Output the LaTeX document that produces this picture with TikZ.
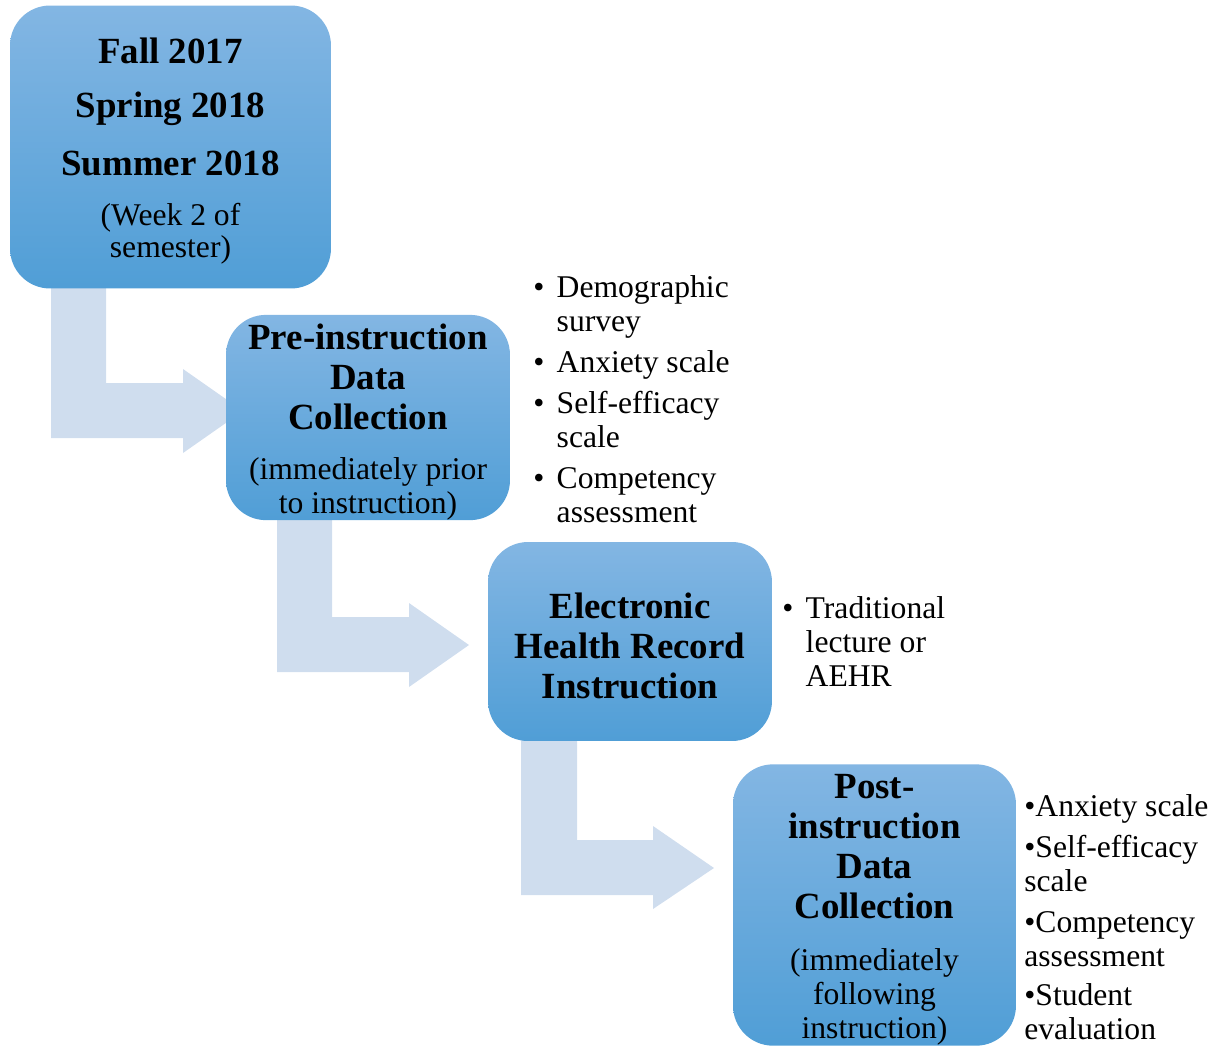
\documentclass[tikz,border=0pt]{standalone}
\usepackage{fontspec}
\setmainfont{Liberation Serif}
\definecolor{boxtop}{RGB}{131,182,227}
\definecolor{boxbot}{RGB}{80,158,214}
\definecolor{arrowblue}{RGB}{207,221,238}
\newcommand{\hdfont}{\fontsize{21}{22.8}\selectfont\bfseries}
\newcommand{\subfont}{\fontsize{18}{19.4}\selectfont\mdseries}
\newcommand{\listfont}{\fontsize{18}{19.4}\selectfont}
\newcommand{\topgap}{\rule{0pt}{19.5pt}}
\begin{document}
\begin{tikzpicture}[x=0.02cm, y=-0.02cm, line join=round,
    box/.style={rectangle, rounded corners=0.8cm, top color=boxtop, bottom color=boxbot, align=center, inner sep=0pt, font=\hdfont},
    bigarrow/.style={fill=arrowblue, draw=none},
    bullets/.style={anchor=base west, inner sep=0pt, font=\listfont}]
            \useasboundingbox (0,0) rectangle (1221,1046);
            \fill[bigarrow] (51,280) -- (106,280) -- (106,383) -- (183,383) -- (183,369) -- (243,411) -- (183,453) -- (183,438) -- (51,438) -- cycle;
            \fill[bigarrow] (277,505) -- (332,505) -- (332,617) -- (409,617) -- (409,603) -- (469,645) -- (409,687) -- (409,672) -- (277,672) -- cycle;
            \fill[bigarrow] (521,730) -- (577,730) -- (577,840) -- (653,840) -- (653,826) -- (714,868) -- (653,909) -- (653,895) -- (521,895) -- cycle;
            \node[box, minimum width=6.42cm, minimum height=5.66cm] (terms) at (170.5,147)
                {\hdfont\topgap Fall 2017\\[7.9pt]\hdfont Spring 2018\\[10.2pt]\hdfont Summer 2018\\[5.7pt]\subfont (Week 2 of\\[-4.6pt]\subfont semester)};
            \node[box, minimum width=5.68cm, minimum height=3.98cm] (pre) at (368,417.5)
                {\hdfont\topgap Pre-instruction\\\hdfont Data\\\hdfont Collection\\[5.7pt]\subfont (immediately prior\\[-3.4pt]\subfont to instruction)};
            \node[box, minimum width=5.68cm, minimum height=3.98cm] (ehr) at (630,641.5)
                {\hdfont\topgap Electronic\\\hdfont Health Record\\\hdfont Instruction};
            \node[box, minimum width=5.66cm, minimum height=5.56cm] (post) at (874.5,905)
                {\hdfont\topgap Post-\\\hdfont instruction\\\hdfont Data\\\hdfont Collection\\[6.8pt]\subfont (immediately\\[-3.4pt]\subfont following\\[-3.4pt]\subfont instruction)};
            \node[bullets] (prelist) at (533,297) {\begin{tabular}[t]{@{}l@{\hspace{7pt}}l@{}}
                \textbullet & Demographic\\ & survey\\[4pt]
                \textbullet & Anxiety scale\\[4pt]
                \textbullet & Self-efficacy\\ & scale\\[4pt]
                \textbullet & Competency\\ & assessment
                \end{tabular}};
            \node[bullets] (ehrlist) at (782,618) {\begin{tabular}[t]{@{}l@{\hspace{7pt}}l@{}}
                \textbullet & Traditional\\ & lecture or\\ & AEHR
                \end{tabular}};
            \node[bullets] (postlist) at (1024,816) {\begin{tabular}[t]{@{}l@{}}
                \textbullet Anxiety scale\\[4pt]
                \textbullet Self-efficacy\\ scale\\[4pt]
                \textbullet Competency\\ assessment\\[3pt]
                \textbullet Student\\ evaluation
                \end{tabular}};
\end{tikzpicture}
\end{document}
